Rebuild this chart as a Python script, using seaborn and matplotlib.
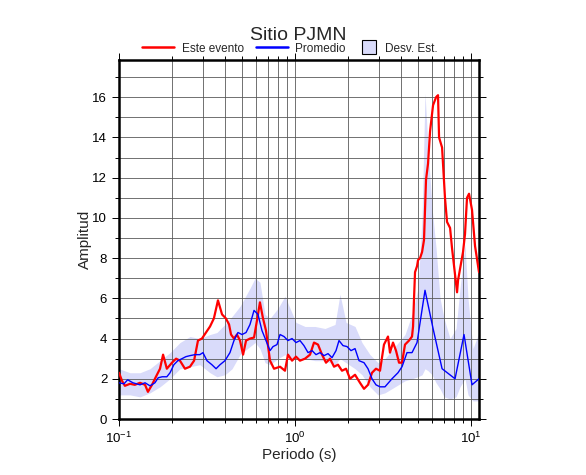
import matplotlib
matplotlib.use("Agg")
import matplotlib.pyplot as plt
import seaborn as sns
from matplotlib.lines import Line2D
from matplotlib.ticker import LogLocator, MultipleLocator, NullFormatter

# ---- data ----
red_period = [0.100, 0.104, 0.108, 0.1155, 0.123, 0.1316, 0.1406, 0.146, 0.154, 0.160,
              0.171, 0.178, 0.187, 0.200, 0.211, 0.222, 0.237, 0.253, 0.267, 0.281,
              0.296, 0.312, 0.329, 0.346, 0.365, 0.385, 0.405, 0.422, 0.433, 0.450,
              0.468, 0.487, 0.507, 0.527, 0.555, 0.585, 0.608, 0.632, 0.658, 0.684,
              0.721, 0.760, 0.822, 0.877, 0.912, 0.962, 1.013, 1.067, 1.140, 1.217,
              1.282, 1.351, 1.424, 1.500, 1.581, 1.666, 1.755, 1.849, 1.950, 2.054,
              2.193, 2.340, 2.466, 2.598, 2.738, 2.884, 3.040, 3.202, 3.375, 3.464,
              3.604, 3.748, 3.899, 4.055, 4.217, 4.443, 4.621, 4.684, 4.745, 4.807,
              4.935, 5.000, 5.133, 5.270, 5.406, 5.550, 5.699, 5.851, 6.085, 6.330,
              6.494, 6.583, 6.847, 7.113, 7.306, 7.603, 7.798, 8.329, 8.440, 9.005,
              9.245, 9.489, 9.742, 10.13, 10.54, 11.10]
red_amp = [2.3, 1.9, 1.65, 1.75, 1.7, 1.8, 1.7, 1.35, 1.7, 2.0,
           2.5, 3.2, 2.5, 2.8, 3.0, 2.9, 2.5, 2.6, 2.9, 3.9,
           4.0, 4.3, 4.6, 5.0, 5.9, 5.2, 5.0, 4.7, 4.2, 4.0,
           4.2, 3.9, 3.2, 3.9, 4.0, 4.05, 4.9, 5.8, 5.0, 4.4,
           2.9, 2.5, 2.6, 2.4, 3.2, 2.9, 3.1, 2.9, 3.0, 3.2,
           3.8, 3.7, 3.2, 2.8, 3.0, 2.6, 2.7, 2.4, 2.5, 2.0,
           2.2, 1.8, 1.5, 1.7, 2.3, 2.5, 2.4, 3.7, 4.1, 3.3,
           3.8, 3.4, 2.8, 2.8, 3.7, 3.9, 4.1, 4.6, 6.0, 7.3,
           7.6, 7.9, 8.0, 8.3, 8.9, 11.9, 12.7, 14.3, 15.6, 16.0,
           16.1, 14.0, 13.5, 11.0, 9.8, 9.5, 8.5, 6.3, 6.9, 8.3,
           9.2, 11.0, 11.2, 10.4, 8.6, 7.3]

blue_period = [0.100, 0.1068, 0.112, 0.120, 0.1316, 0.1406, 0.150, 0.160, 0.167, 0.176,
               0.187, 0.195, 0.205, 0.216, 0.228, 0.240, 0.253, 0.270, 0.288, 0.300,
               0.316, 0.337, 0.356, 0.375, 0.400, 0.427, 0.450, 0.474, 0.500, 0.527,
               0.555, 0.585, 0.616, 0.649, 0.684, 0.721, 0.750, 0.790, 0.822, 0.866,
               0.912, 0.962, 1.013, 1.067, 1.124, 1.186, 1.250, 1.316, 1.387, 1.462,
               1.540, 1.623, 1.710, 1.778, 1.873, 1.975, 2.080, 2.193, 2.310, 2.466,
               2.598, 2.738, 2.884, 3.040, 3.244, 3.556, 3.846, 4.055, 4.328, 4.621,
               4.935, 5.477, 6.085, 6.847, 8.114, 9.124, 10.13, 11.10]
blue_amp = [1.8, 1.75, 1.95, 1.8, 1.7, 1.8, 1.65, 1.8, 2.05, 2.1,
            2.1, 2.3, 2.7, 2.9, 3.0, 3.1, 3.15, 3.2, 3.2, 3.3,
            2.9, 2.7, 2.5, 2.7, 2.9, 3.3, 3.9, 4.3, 4.2, 4.3,
            4.7, 5.4, 5.2, 4.4, 3.9, 3.4, 3.6, 3.7, 4.2, 4.1,
            3.9, 4.0, 3.8, 3.9, 3.65, 3.3, 3.4, 3.2, 3.3, 3.15,
            3.25, 3.05, 3.4, 3.9, 3.65, 3.6, 3.4, 3.5, 2.9, 2.8,
            2.5, 2.0, 1.7, 1.6, 1.6, 2.0, 2.3, 2.6, 3.3, 3.3,
            3.8, 6.4, 4.5, 2.5, 2.0, 4.2, 1.7, 2.0]

band_period = [0.100, 0.1155, 0.1316, 0.150, 0.171, 0.195, 0.222, 0.253, 0.288, 0.329,
               0.360, 0.400, 0.439, 0.487, 0.555, 0.593, 0.632, 0.676, 0.721, 0.800,
               0.877, 0.937, 1.013, 1.140, 1.300, 1.480, 1.688, 1.801, 1.950, 2.193,
               2.402, 2.667, 2.961, 3.244, 3.700, 4.217, 4.621, 5.000, 5.270, 5.477,
               5.699, 6.006, 6.330, 6.670, 7.028, 7.603, 8.221, 8.660, 9.245, 9.614,
               10.26, 11.10]
band_low = [1.2, 1.2, 1.1, 1.3, 1.6, 2.0, 2.5, 2.6, 2.7, 2.3,
            2.1, 2.2, 2.5, 3.2, 3.6, 3.8, 3.5, 2.8, 2.7, 3.0,
            3.2, 3.0, 3.0, 3.0, 2.9, 2.9, 2.7, 3.0, 2.8, 2.5,
            2.2, 1.6, 1.2, 1.3, 1.6, 1.9, 2.0, 2.1, 2.2, 2.5,
            2.4, 2.2, 1.8, 1.5, 1.1, 1.0, 1.1, 1.6, 2.0, 1.2,
            0.9, 0.9]
band_high = [2.5, 2.3, 2.3, 2.5, 2.9, 3.3, 3.8, 4.1, 4.0, 4.2,
             4.3, 4.7, 5.1, 5.6, 6.5, 7.0, 6.8, 5.2, 5.0, 5.5,
             6.1, 5.5, 4.8, 4.6, 4.6, 4.5, 4.7, 6.2, 4.8, 4.6,
             3.8, 3.2, 2.8, 3.0, 3.6, 4.2, 5.2, 6.5, 10.0, 16.2,
             13.5, 10.5, 8.5, 6.0, 5.0, 4.0, 4.5, 6.5, 8.7, 6.0,
             3.5, 4.3]

title = "Sitio PJMN"
series_labels = ["Este evento", "Promedio", "Desv. Est."]
x_label = "Periodo (s)"
y_label = "Amplitud"
y_ticks = [0, 2, 4, 6, 8, 10, 12, 14, 16]

band_color = "#d9dbfa"

sns.set_style("ticks")
plt.rcParams['font.family'] = ['Liberation Sans', 'DejaVu Sans']
plt.rcParams['mathtext.fontset'] = 'custom'
plt.rcParams['mathtext.rm'] = 'Liberation Sans'

W, H = 586, 475
fig = plt.figure(figsize=(W / 100, H / 100), dpi=100)
ax = fig.add_axes([119 / W, 56 / H, 360 / W, 359 / H])

ax.fill_between(band_period, band_low, band_high, color=band_color, lw=0, zorder=1)
sns.lineplot(x=red_period, y=red_amp, color="red", lw=1.6, ax=ax, sort=False,
             estimator=None, zorder=3)
sns.lineplot(x=blue_period, y=blue_amp, color="blue", lw=1.0, ax=ax, sort=False,
             estimator=None, zorder=4)

ax.set_xscale("log")
ax.set_xlim(0.1, 11.1)
ax.set_ylim(0, 17.85)
ax.set_yticks(y_ticks)
ax.yaxis.set_minor_locator(MultipleLocator(1))
ax.xaxis.set_major_locator(LogLocator(base=10))
ax.xaxis.set_minor_locator(LogLocator(base=10, subs=range(2, 10)))
ax.xaxis.set_minor_formatter(NullFormatter())

ax.set_axisbelow("line")
ax.grid(which="both", color="0.35", lw=0.6)

ax.tick_params(which="both", direction="out", top=True, right=True, colors="black",
               labelsize=9.5, width=0.7)
ax.tick_params(which="major", length=5)
ax.tick_params(which="minor", length=3)
for s in ax.spines.values():
    s.set_linewidth(1.8)
    s.set_color("black")

ax.set_xlabel(x_label, fontsize=11)
ax.set_ylabel(y_label, fontsize=11)
ax.xaxis.set_label_coords(0.5, -0.08)
ax.yaxis.set_label_coords(-0.075, 0.5)

fig.text(298 / W, 1 - 39.5 / H, title, ha="center", va="baseline", fontsize=14)

# legend: one entry per legend so each sits where the reference puts it
fs = 8.5
fs_px = fs * 100 / 72
entries = [
    (Line2D([], [], color="red", lw=1.8), series_labels[0], 142, 32, 8),
    (Line2D([], [], color="blue", lw=1.8), series_labels[1], 256, 32, 7),
    (Line2D([], [], marker="s", ls="none", markersize=10, markerfacecolor=band_color,
            markeredgecolor="black", markeredgewidth=0.8), series_labels[2], 362, 14, 9),
]
for handle, label, x0, hlen, gap in entries:
    leg = fig.legend([handle], [label], loc="center left",
                     bbox_to_anchor=(x0 / W, 1 - 48.5 / H), frameon=False, fontsize=fs,
                     handlelength=hlen / fs_px, handletextpad=gap / fs_px,
                     borderpad=0, borderaxespad=0)

fig.savefig("out.png", dpi=100)
